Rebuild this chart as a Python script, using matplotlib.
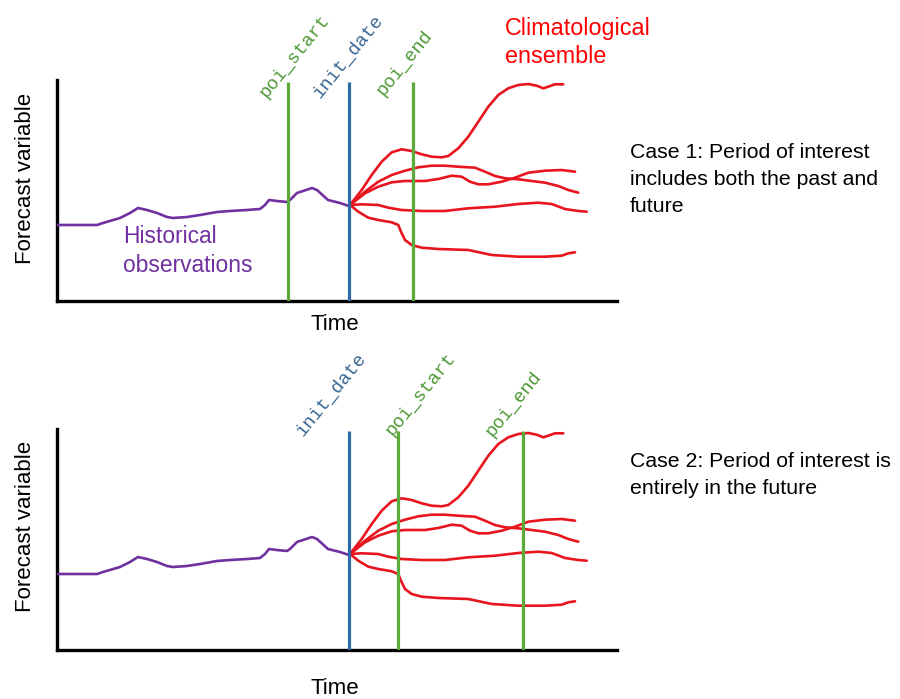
import matplotlib
matplotlib.use("Agg")
import matplotlib.pyplot as plt

W, H = 900, 699

# ---- data (time units, value units) ----
hist_t = [0, 40, 46, 63, 73, 81, 90, 100, 110, 116, 130, 143, 160, 173, 190, 203, 208, 212, 220, 230, 233, 240, 255, 260, 271, 283, 292]
hist_v = [76, 76, 78, 83, 88, 93, 91, 88, 84, 83, 84, 86, 89, 90, 91, 92, 96, 101, 100, 99, 101, 108, 113, 111, 101, 98, 95]

ens_a_t = [293, 304.7, 314.7, 324.7, 334.7, 344.7, 354.7, 364.7, 374.7, 384.7, 391.3, 401.3, 411.3, 421.3, 431.3, 441.3, 451.3, 461.3, 471.3, 479.7, 486.3, 491.3, 498, 506.3]
ens_a_v = [96, 111, 126, 139.3, 148.7, 151.7, 150, 146.7, 144.3, 143.7, 145, 152.7, 164.3, 179.3, 194.3, 206, 212.7, 216, 217, 215.3, 212.7, 214.3, 216.7, 216.7]
ens_b_t = [293, 308, 321.3, 334.7, 348, 361.3, 374.7, 388, 401.3, 418, 428, 438, 448, 461.3, 474.7, 488, 501.3, 511.3, 521.3]
ens_b_v = [96, 109.3, 119.3, 126, 130.3, 133.7, 135.3, 135.3, 134.3, 133.3, 129.3, 125, 122.7, 121.7, 120, 118.3, 115, 111, 108.3]
ens_c_t = [293, 308, 321.3, 334.7, 348, 368, 381.3, 394.7, 404.7, 413, 421.3, 431.3, 444.7, 458, 471.3, 488, 504.7, 518]
ens_c_v = [96, 107.7, 114.3, 118.7, 120, 120, 122, 125.3, 124.3, 119.3, 116.7, 116.7, 119.3, 123.3, 128.3, 130.3, 131, 129.3]
ens_d_t = [293, 304.7, 321.3, 331.3, 344.7, 364.7, 388, 411.3, 438, 461.3, 481.3, 494.7, 508, 521.3, 529.7]
ens_d_v = [96, 96.7, 96, 93.3, 91, 90, 90, 92.7, 94.3, 97, 98.3, 97, 92, 90, 89.3]
ens_e_t = [293, 301.3, 311.3, 321.3, 334.7, 341.3, 344, 348, 354.7, 364.7, 381.3, 411.3, 434.7, 461.3, 488, 504.7, 511.3, 518]
ens_e_v = [96, 89.3, 83.3, 81, 78.7, 76, 69.3, 61, 56, 53.3, 52, 51, 46, 44.3, 44.3, 45.3, 47.7, 48.7]
ensemble = [(ens_a_t, ens_a_v), (ens_b_t, ens_b_v), (ens_c_t, ens_c_v),
            (ens_d_t, ens_d_v), (ens_e_t, ens_e_v)]

init_date = 292
case1_marks = {"poi_start": 231, "init_date": init_date, "poi_end": 356}
case2_marks = {"init_date": init_date, "poi_start": 341, "poi_end": 466}

case1_text = ["Case 1: Period of interest", "includes both the past and", "future"]
case2_text = ["Case 2: Period of interest is", "entirely in the future"]

# ---- style ----
RED = "#E8141E"
PURPLE = "#7030A0"
GREEN = "#5AAB3A"
BLUE = "#2E6AA6"
GREEN_TXT = "#4E9A36"
BLUE_TXT = "#3A6894"
SANS = "Liberation Sans"
MONO = "Liberation Mono"
FS = 16

fig = plt.figure(figsize=(W / 100, H / 100), dpi=100)
fig.patch.set_facecolor("white")


def fx(px):
    return px / W


def fy(py):
    return 1 - py / H


def make_axes(top_px, bottom_px):
    ax = fig.add_axes([fx(57), fy(bottom_px), (617 - 57) / W, (bottom_px - top_px) / H])
    ax.set_xlim(0, 560)
    ax.set_ylim(0, bottom_px - top_px)
    for s in ("top", "right"):
        ax.spines[s].set_visible(False)
    for s in ("left", "bottom"):
        ax.spines[s].set_linewidth(2.4)
        ax.spines[s].set_color("black")
    ax.set_xticks([])
    ax.set_yticks([])
    ax.patch.set_alpha(0)
    return ax


def draw_panel(ax, marks, label_pos):
    ax.plot(hist_t, hist_v, color=PURPLE, lw=1.9, solid_joinstyle="round",
            solid_capstyle="round", zorder=3)
    for t, v in ensemble:
        ax.plot(t, v, color=RED, lw=1.9, solid_joinstyle="round",
                solid_capstyle="round", zorder=3, clip_on=False)
    for name, x in marks.items():
        col = BLUE if name == "init_date" else GREEN
        ax.plot([x, x], [0, 219], color=col, lw=2.3, zorder=4, solid_capstyle="butt")
    for name, (px, py) in label_pos.items():
        col = BLUE_TXT if name == "init_date" else GREEN_TXT
        fig.text(fx(px), fy(py), name, family=MONO, fontsize=13.5, color=col,
                 rotation=51, rotation_mode="anchor", ha="left", va="baseline")


ax1 = make_axes(80, 301)
ax2 = make_axes(429, 650)

draw_panel(ax1, case1_marks,
           {"poi_start": (266, 98), "init_date": (320, 99), "poi_end": (383, 96)})
draw_panel(ax2, case2_marks,
           {"init_date": (303, 437), "poi_start": (392, 436), "poi_end": (492, 437)})

# axis labels
for cy in (178, 526):
    fig.text(fx(31), fy(cy), "Forecast variable", family=SANS, fontsize=FS,
             rotation=90, rotation_mode="anchor", ha="center", va="baseline")
for by in (330, 694):
    fig.text(fx(335), fy(by), "Time", family=SANS, fontsize=FS, ha="center", va="baseline")

# annotations
fig.text(fx(123), fy(243), "Historical", family=SANS, fontsize=16.4, color=PURPLE, va="baseline")
fig.text(fx(123), fy(272), "observations", family=SANS, fontsize=16.4, color=PURPLE, va="baseline")
fig.text(fx(505), fy(35), "Climatological", family=SANS, fontsize=16.8, color="#FF0000", va="baseline")
fig.text(fx(505), fy(63), "ensemble", family=SANS, fontsize=16.8, color="#FF0000", va="baseline")

for i, line in enumerate(case1_text):
    fig.text(fx(630), fy(158 + 27 * i), line, family=SANS, fontsize=15.3, va="baseline")
for i, line in enumerate(case2_text):
    fig.text(fx(630), fy(467 + 27 * i), line, family=SANS, fontsize=15.3, va="baseline")

fig.savefig("out.png", dpi=100)
